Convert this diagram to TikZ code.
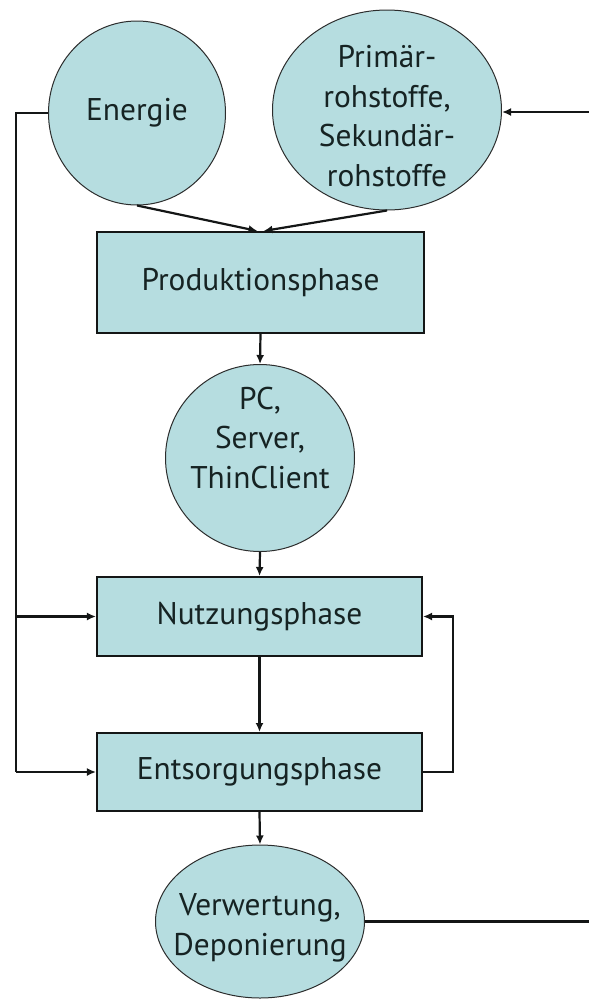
\documentclass[tikz,border=0pt]{standalone}
\usepackage{fontspec}
\setmainfont{PT Sans}
\usetikzlibrary{shapes.geometric,arrows.meta}
\definecolor{fillc}{RGB}{182,221,224}
\definecolor{linec}{RGB}{20,22,22}
\definecolor{txtc}{RGB}{22,35,35}
\begin{document}
\begin{tikzpicture}[x=1bp,y=-1bp,
  font=\fontsize{31.5}{40}\selectfont,
  ell/.style={ellipse, draw=linec!90, line width=1bp, fill=fillc, inner sep=0pt, align=center, text=txtc},
  elltext/.style={align=center, text=txtc, inner sep=0pt},
  phase/.style={rectangle, draw=linec, line width=2bp, fill=fillc, inner sep=0pt, text=txtc},
  conn/.style={line width=2.2bp, draw=linec},
  arr/.style={conn, -{Latex[length=9bp,width=8bp]}}]
\useasboundingbox (0,0) rectangle (589,999);

\node[ell, minimum width=177bp, minimum height=184bp] (en) at (137,113) {Energie};
\node[ell, minimum width=229bp, minimum height=200bp,
  label={[name=rst, elltext, yshift=-6bp]center:Primär-\\rohstoffe,\\Sekundär-\\rohstoffe}] (rs) at (387,110) {};
\node[phase, minimum width=327bp, minimum height=101bp] (prod) at (260.5,282.5) {Produktionsphase};
\node[ell, minimum width=189bp, minimum height=187bp,
  label={[name=pct, elltext, yshift=20bp]center:PC,\\Server,\\ThinClient}] (pc) at (260,458) {};
\node[phase, minimum width=325bp, minimum height=79bp] (nutz) at (259.5,616.5) {Nutzungsphase};
\node[phase, minimum width=325bp, minimum height=78bp] (ents) at (259.5,772) {Entsorgungsphase};
\node[ell, minimum width=209bp, minimum height=153bp,
  label={[name=vwt, elltext, yshift=-6bp]center:Verwertung,\\Deponierung}] (verw) at (260,921.5) {};

\coordinate (lb) at (16,772);
\coordinate (rl) at (453,700);
\coordinate (rin) at (589,112);
\coordinate (rout) at (589,923);

\draw[conn] (en.west) -- (en.west -| lb) -- (lb);
\draw[arr] (lb) -- (ents.west);
\draw[arr] (nutz.west -| lb) -- (nutz.west);

\draw[arr] (en.south) -- ([xshift=-3bp]prod.north);
\draw[arr] (rs.south) -- ([xshift=3bp]prod.north);
\draw[arr] (rin) -- (rin -| rs.east);

\draw[arr] (prod.south) -- (pc.north);
\draw[arr] (pc.south) -- (nutz.north);
\draw[arr] (nutz.south) -- (ents.north);
\draw[arr] (ents.south) -- (verw.north);

\draw[arr] (ents.east) -- (ents.east -| rl) -- (nutz.east -| rl) -- (nutz.east);
\draw[conn] (verw.east) -- (verw.east -| rout);
\end{tikzpicture}
\end{document}
